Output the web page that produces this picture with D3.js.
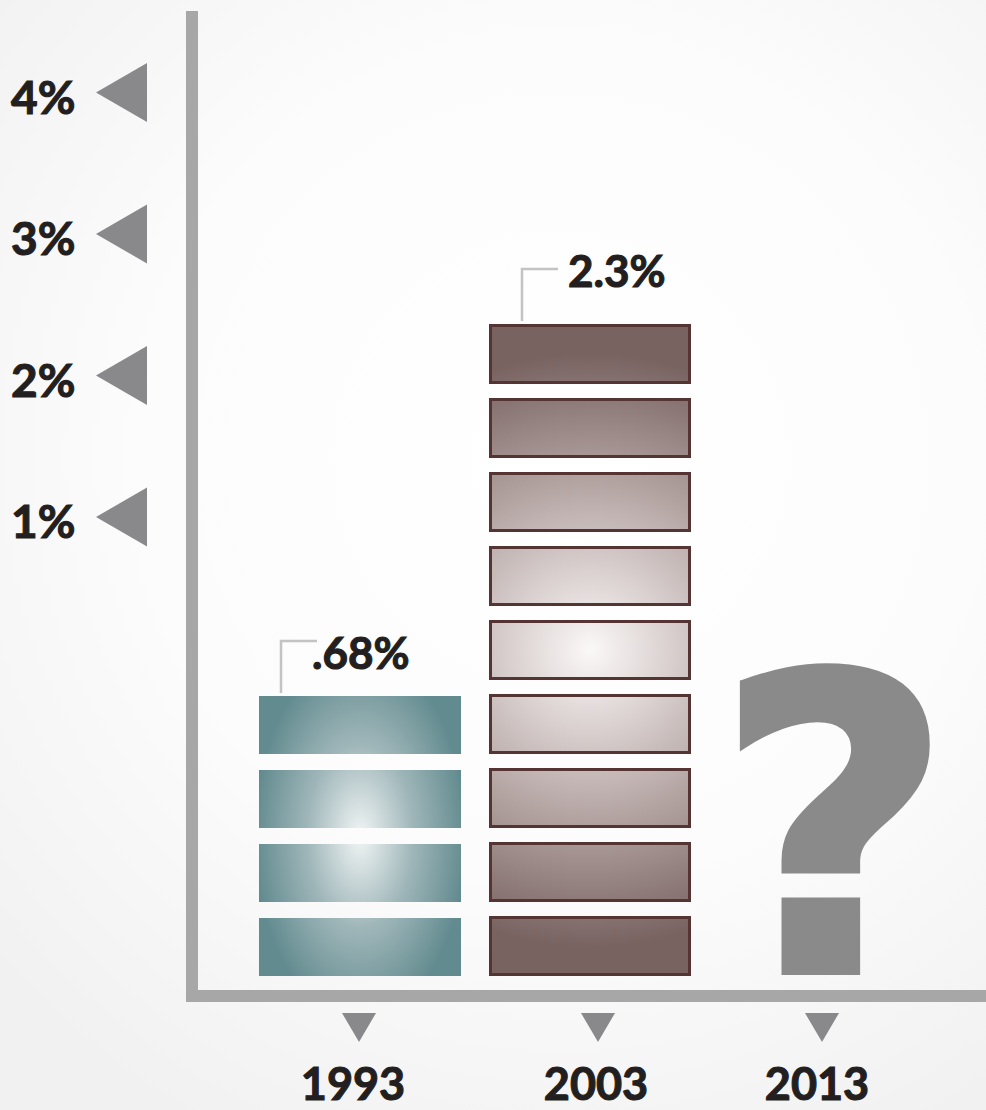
<!DOCTYPE html>
<html>
<head>
<meta charset="utf-8">
<script src="https://cdn.jsdelivr.net/npm/d3@7"></script>
<style>
  html, body { margin: 0; padding: 0; background: #f6f6f6; }
  svg { display: block; }
  text { font-family: Lato, "Open Sans", sans-serif; font-weight: 700; fill: #231f20; }
  .lbl { stroke: #231f20; stroke-width: 1.1px; paint-order: stroke; }
</style>
</head>
<body>
<svg id="chart"></svg>
<script>
// data
const years = ["1993", "2003", "2013"];
const values = [0.68, 2.3, null];
const valueLabels = [".68%", "2.3%", "?"];
const segments = [4, 9, 0];
const yTicks = [1, 2, 3, 4];
const yTickLabels = ["1%", "2%", "3%", "4%"];

let width = 986;
let height = 1110;

let svg = d3.select("#chart")
    .attr("width", width)
    .attr("height", height);

let defs = svg.append("defs");

// background glow
let bg = defs.append("radialGradient")
    .attr("id", "bg")
    .attr("gradientUnits", "userSpaceOnUse")
    .attr("cx", 560).attr("cy", 460).attr("r", 760);
bg.append("stop").attr("offset", 0).attr("stop-color", "#ffffff");
bg.append("stop").attr("offset", 0.55).attr("stop-color", "#fcfcfc");
bg.append("stop").attr("offset", 1).attr("stop-color", "#f1f1f1");

svg.append("rect")
    .attr("width", width)
    .attr("height", height)
    .attr("fill", "url(#bg)");

// scales
let x = d3.scalePoint().domain(years).range([360, 820]);
let yTick = d3.scaleLinear().domain([1, 4]).range([517, 92.5]);
let seg = d3.scaleLinear().domain([0, 9]).range([976, 310]);

let barW = 202;
let styles = [
    { edge: "#628b8f", mid: "#9fb6b9", center: "#f1f5f5", stroke: "none", gap: 16, rx: 118, ry: 205, cdx: 22, ldx: 53, ldy: -27 },
    { edge: "#786361", mid: "#bcaeac", center: "#fbf8f8", stroke: "#553533", gap: 14, rx: 330, ry: 330, cdx: 33, ldx: 79, ldy: -37 }
];

// axes lines
let axisColor = "#a7a7a8";
svg.append("rect")
    .attr("x", 186).attr("y", 11)
    .attr("width", 12).attr("height", 991)
    .attr("fill", axisColor);
svg.append("rect")
    .attr("x", 186).attr("y", 990)
    .attr("width", width - 186).attr("height", 12)
    .attr("fill", axisColor);

// y ticks: left pointing triangles
svg.selectAll(".ytick")
    .data(yTicks)
    .enter()
    .append("path")
    .attr("class", "ytick")
    .attr("d", (d) => {
        let ty = yTick(d);
        return "M96," + ty + "L147," + (ty - 29.5) + "L147," + (ty + 29.5) + "Z";
    })
    .attr("fill", "#89898b");

svg.selectAll(".ylabel")
    .data(yTicks)
    .enter()
    .append("text")
    .attr("class", "ylabel lbl")
    .attr("x", 11)
    .attr("y", (d) => yTick(d) + 21)
    .attr("font-size", 46)
    .text((d, i) => yTickLabels[i]);

// bars built from stacked blocks
years.forEach((yr, i) => {
    if (!segments[i]) return;
    let st = styles[i];
    let cx = x(yr);
    let top = seg(segments[i]) + st.gap;
    let cy = (top + seg(0)) / 2;

    let grad = defs.append("radialGradient")
        .attr("id", "g" + i)
        .attr("gradientUnits", "userSpaceOnUse")
        .attr("cx", 0).attr("cy", 0).attr("r", 1)
        .attr("gradientTransform", "translate(" + cx + "," + cy + ") scale(" + st.rx + "," + st.ry + ")");
    grad.append("stop").attr("offset", 0).attr("stop-color", st.center);
    grad.append("stop").attr("offset", 0.45).attr("stop-color", st.mid);
    grad.append("stop").attr("offset", 0.9).attr("stop-color", st.edge);
    grad.append("stop").attr("offset", 1).attr("stop-color", st.edge);

    let sw = st.stroke === "none" ? 0 : 3;
    svg.selectAll(".seg" + i)
        .data(d3.range(segments[i]))
        .enter()
        .append("rect")
        .attr("class", "seg" + i)
        .attr("x", cx - barW / 2 + sw / 2)
        .attr("y", (k) => seg(k + 1) + st.gap + sw / 2)
        .attr("width", barW - sw)
        .attr("height", (k) => seg(k) - seg(k + 1) - st.gap - sw)
        .attr("fill", "url(#g" + i + ")")
        .attr("stroke", st.stroke)
        .attr("stroke-width", sw);

    // callout bracket and value
    let bx = cx - barW / 2 + st.cdx;
    svg.append("path")
        .attr("d", "M" + bx + "," + (top - 3) + "V" + (top - 55) + "H" + (bx + 36))
        .attr("fill", "none")
        .attr("stroke", "#c3c3c3")
        .attr("stroke-width", 2.5);
    svg.append("text")
        .attr("class", "lbl")
        .attr("x", cx - barW / 2 + st.ldx)
        .attr("y", top + st.ldy)
        .attr("font-size", 44)
        .text(valueLabels[i]);
});

// unknown value
years.forEach((yr, i) => {
    if (values[i] !== null) return;
    svg.append("text")
        .attr("x", x(yr) + 14)
        .attr("y", 972)
        .attr("text-anchor", "middle")
        .attr("font-size", 412)
        .style("font-family", "'DejaVu Sans', sans-serif")
        .style("font-weight", 700)
        .style("fill", "#8a8a8b")
        .style("stroke", "#8a8a8b")
        .style("stroke-width", "6px")
        .text(valueLabels[i]);
});

// x ticks: down pointing triangles and years
let tickDx = [-1, 8, 2];
svg.selectAll(".xtick")
    .data(years)
    .enter()
    .append("path")
    .attr("class", "xtick")
    .attr("d", (d, i) => {
        let tx = x(d) + tickDx[i];
        return "M" + (tx - 17) + ",1013L" + (tx + 17) + ",1013L" + tx + ",1042Z";
    })
    .attr("fill", "#89898b");

let labelDx = [-7, 6, -3];
svg.selectAll(".xlabel")
    .data(years)
    .enter()
    .append("text")
    .attr("class", "xlabel lbl")
    .attr("x", (d, i) => x(d) + labelDx[i])
    .attr("y", 1100)
    .attr("text-anchor", "middle")
    .attr("font-size", 45)
    .text((d) => d);
</script>
</body>
</html>
